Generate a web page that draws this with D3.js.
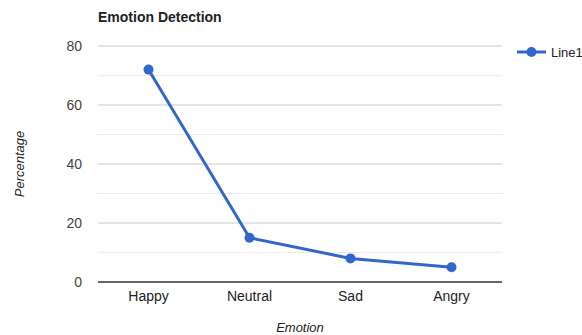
<!DOCTYPE html>
<html><head><meta charset="utf-8">
<script src="https://cdn.jsdelivr.net/npm/d3@7"></script>
<style>body{margin:0;background:#fff;}svg{display:block;font-family:Arial,"Liberation Sans",sans-serif;}</style>
</head><body>
<svg id="c" width="582" height="335"></svg>
<script>
const categories = ["Happy", "Neutral", "Sad", "Angry"];
const values = [72, 15, 8, 5];
const majorTicks = [0, 20, 40, 60, 80];
const minorTicks = [10, 30, 50, 70];
const seriesName = "Line1";

const svg = d3.select("#c");
const L = 98, R = 502, T = 46, B = 282;
const x = d3.scaleBand().domain(categories).range([L, R]);
const y = d3.scaleLinear().domain([0, 80]).range([B, T]);

svg.append("g").selectAll("line").data(minorTicks).join("line")
  .attr("x1", L).attr("x2", R).attr("y1", d => y(d)).attr("y2", d => y(d))
  .attr("stroke", "#ebebeb").attr("stroke-width", 1);
svg.append("g").selectAll("line").data(majorTicks.filter(d => d !== 0)).join("line")
  .attr("x1", L).attr("x2", R).attr("y1", d => y(d)).attr("y2", d => y(d))
  .attr("stroke", "#cccccc").attr("stroke-width", 1);
svg.append("line").attr("x1", L).attr("x2", R).attr("y1", y(0)).attr("y2", y(0))
  .attr("stroke", "#333333").attr("stroke-width", 1.5);

svg.append("g").selectAll("text").data(majorTicks).join("text")
  .attr("x", 82).attr("y", d => y(d) + 5).attr("text-anchor", "end")
  .attr("font-size", 14).attr("fill", "#444").text(d => d);

svg.append("g").selectAll("text").data(categories).join("text")
  .attr("x", d => x(d) + x.bandwidth() / 2).attr("y", 301).attr("text-anchor", "middle")
  .attr("font-size", 14).attr("fill", "#222").text(d => d);

svg.append("text").attr("x", 98).attr("y", 22).attr("font-size", 14).attr("font-weight", "bold")
  .attr("fill", "#222").text("Emotion Detection");
svg.append("text").attr("x", 300).attr("y", 332).attr("text-anchor", "middle")
  .attr("font-size", 13).attr("font-style", "italic").attr("fill", "#222").text("Emotion");
svg.append("text").attr("transform", "translate(24,164) rotate(-90)").attr("text-anchor", "middle")
  .attr("font-size", 13).attr("font-style", "italic").attr("fill", "#222").text("Percentage");

const data = categories.map((c, i) => ({c, v: values[i]}));
const line = d3.line().x(d => x(d.c) + x.bandwidth() / 2).y(d => y(d.v));
svg.append("path").datum(data).attr("d", line).attr("fill", "none")
  .attr("stroke", "#3366cc").attr("stroke-width", 3);
svg.append("g").selectAll("circle").data(data).join("circle")
  .attr("cx", d => x(d.c) + x.bandwidth() / 2).attr("cy", d => y(d.v)).attr("r", 5)
  .attr("fill", "#3366cc");

const lg = svg.append("g");
lg.append("line").attr("x1", 517).attr("x2", 546).attr("y1", 52).attr("y2", 52)
  .attr("stroke", "#3366cc").attr("stroke-width", 3);
lg.append("circle").attr("cx", 531.5).attr("cy", 52).attr("r", 5).attr("fill", "#3366cc");
lg.append("text").attr("x", 551).attr("y", 57).attr("font-size", 13).attr("fill", "#222").text(seriesName);
</script>
</body></html>
